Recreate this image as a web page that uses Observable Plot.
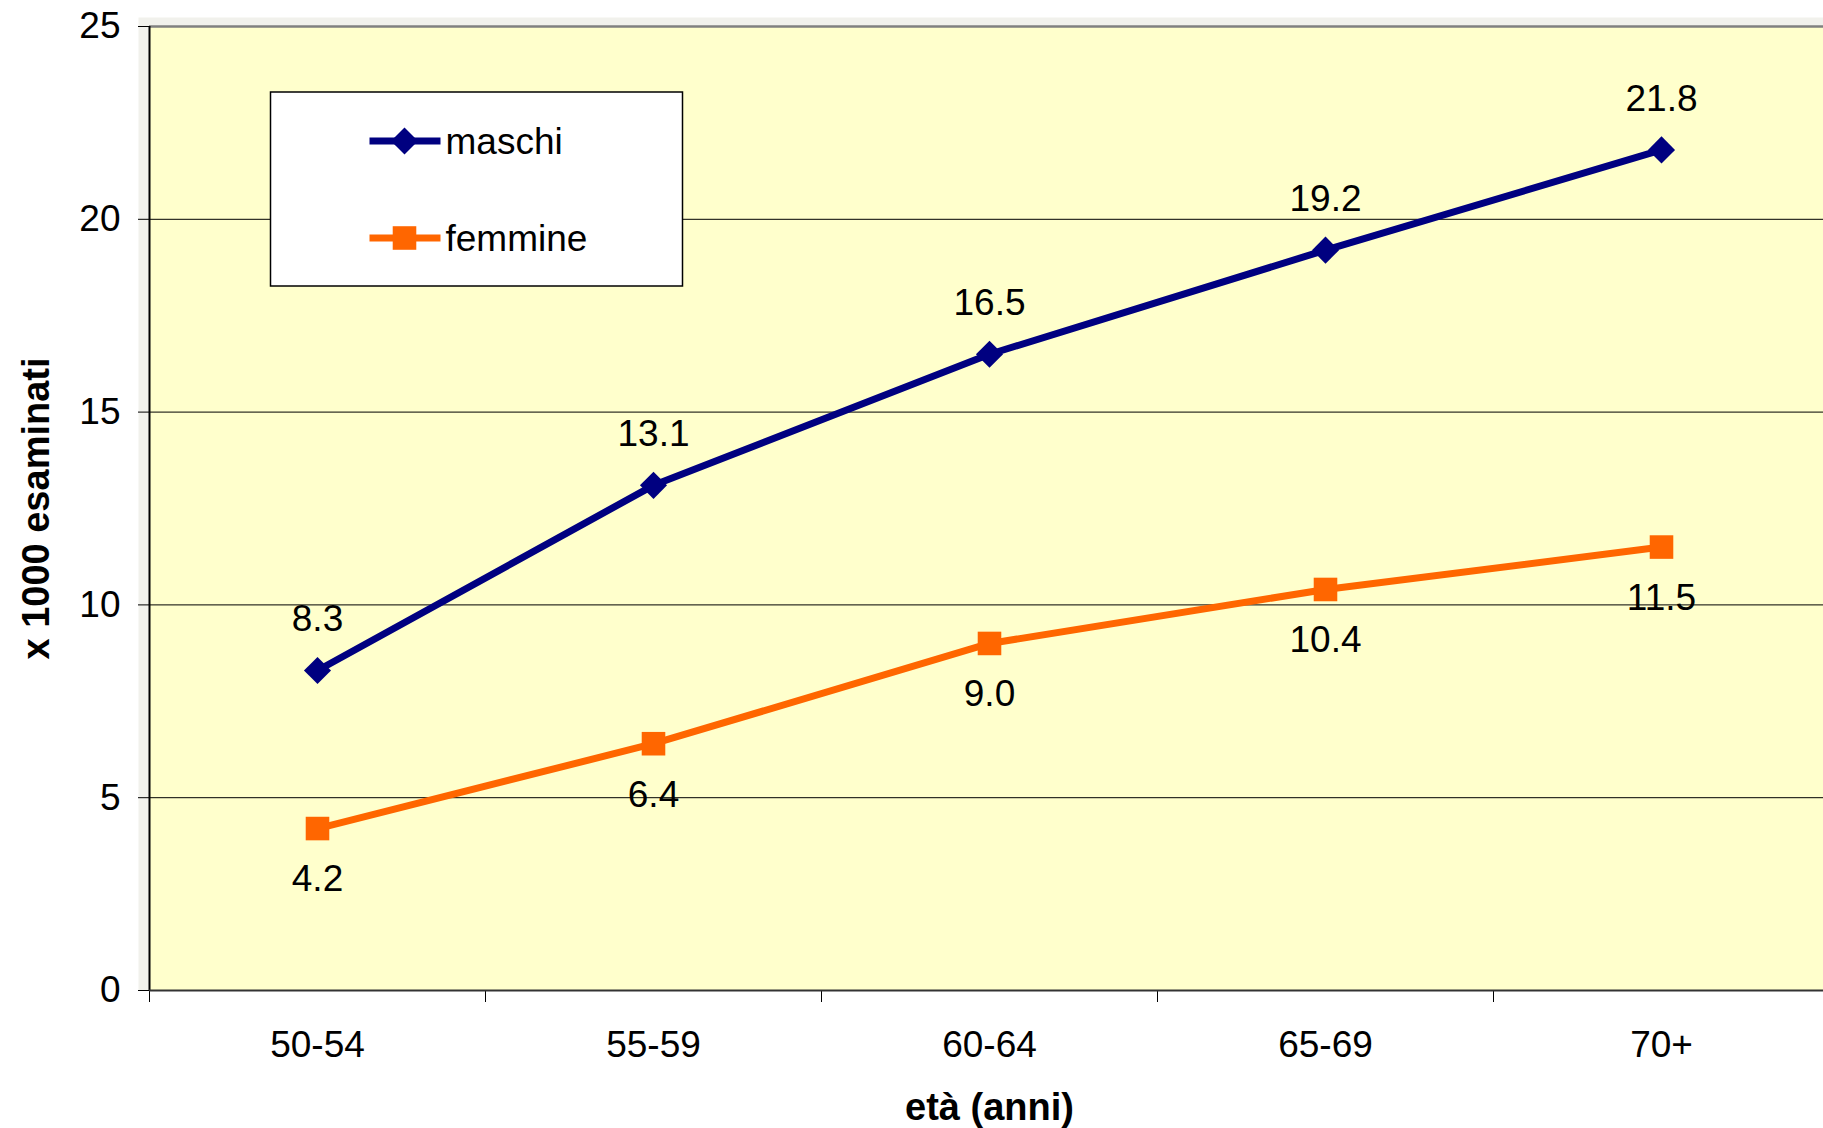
<!DOCTYPE html>
<html><head><meta charset="utf-8">
<script src="https://cdn.jsdelivr.net/npm/d3@7"></script>
<script src="https://cdn.jsdelivr.net/npm/@observablehq/plot@0.6"></script>
<style>
body{margin:0;background:#fff;}
#wrap{position:relative;width:1823px;height:1128px;overflow:hidden;font-family:"Liberation Sans",Arial,sans-serif;}
</style></head><body><div id="wrap"></div>
<script>
const ages = ["50-54","55-59","60-64","65-69","70+"];
const maschi = [8.3,13.1,16.5,19.2,21.8];
const femmine = [4.2,6.4,9.0,10.4,11.5];
const yTicks = [0,5,10,15,20,25];
const gridTicks = [5,10,15,20];
const seriesNames = ["maschi","femmine"];
const seriesColors = ["#000080","#FF6600"];
const seriesSymbols = ["diamond2","square"];
const xTitle = "età (anni)";
const yTitle = "x 1000 esaminati";

const rowsM = ages.map((a,i)=>({age:a, value:maschi[i]}));
const rowsF = ages.map((a,i)=>({age:a, value:femmine[i]}));

const W=1823, H=1128, ML=149, MR=-6, MT=26, MB=138;
const half = (W-ML-MR)/ages.length/2;
const font = "'Liberation Sans', Arial, sans-serif";
const FS = 37;

const chart = Plot.plot({
  width: W, height: H, marginLeft: ML, marginRight: MR, marginTop: MT, marginBottom: MB,
  style: {fontFamily: font, fontSize: FS + "px", background: "transparent", color: "#000"},
  x: {type: "point", domain: ages, padding: 0.5, axis: null, label: null},
  y: {domain: [0,25], axis: null, label: null},
  marks: [
    Plot.frame({fill: "#f1f1ec", insetLeft: -11, insetTop: -9}),
    Plot.frame({fill: "#FFFFCC"}),
    Plot.ruleY(gridTicks, {stroke: "#000", strokeWidth: 1}),
    Plot.ruleY([25], {stroke: "#808080", strokeWidth: 2.5}),
    Plot.axisY({ticks: yTicks, tickSize: 11, tickPadding: 18, fontSize: FS, label: null, stroke: "#000"}),
    Plot.axisX({ticks: ages, tickSize: 12, tickFormat: () => "", dx: -half, label: null, stroke: "#000"}),
    Plot.axisX({ticks: ages, tickSize: 0, tickPadding: 40, fontSize: FS, label: null}),
    Plot.ruleX([ages[0]], {dx: -half, stroke: "#000", strokeWidth: 2}),
    Plot.ruleY([0], {stroke: "#333", strokeWidth: 2}),
    Plot.line(rowsM, {x: "age", y: "value", stroke: seriesColors[0], strokeWidth: 7}),
    Plot.line(rowsF, {x: "age", y: "value", stroke: seriesColors[1], strokeWidth: 7}),
    Plot.dot(rowsM, {x: "age", y: "value", symbol: seriesSymbols[0], r: 12.2, fill: seriesColors[0], stroke: null}),
    Plot.dot(rowsF, {x: "age", y: "value", symbol: seriesSymbols[1], r: 13.3, fill: seriesColors[1], stroke: null}),
    Plot.text(rowsM, {x: "age", y: "value", text: d => d.value.toFixed(1), dy: -51, fontSize: FS, fill: "#000"}),
    Plot.text(rowsF, {x: "age", y: "value", text: d => d.value.toFixed(1), dy: 51, fontSize: FS, fill: "#000"}),
    Plot.text([xTitle], {frameAnchor: "bottom", textAnchor: "middle", dy: 129, fontWeight: "bold", fontSize: 38, fill: "#000"}),
    Plot.text([yTitle], {frameAnchor: "left", textAnchor: "middle", rotate: -90, dx: -113, fontWeight: "bold", fontSize: 38, fill: "#000"})
  ]
});
chart.style.position = "absolute";
chart.style.left = "0px";
chart.style.top = "0px";
document.getElementById("wrap").appendChild(chart);

// legend overlay
const leg = d3.select("#wrap").append("svg")
  .attr("width", W).attr("height", H)
  .style("position","absolute").style("left","0px").style("top","0px");
const lx = 270.5, ly = 92, lw = 412, lh = 194;
leg.append("rect").attr("x", lx).attr("y", ly).attr("width", lw).attr("height", lh)
  .attr("fill","#fff").attr("stroke","#000").attr("stroke-width",1.5);
const symSizes = [Math.PI*12.2*12.2, Math.PI*13.3*13.3];
const symD3 = [d3.symbolDiamond2, d3.symbolSquare];
seriesNames.forEach((name, i) => {
  const cy = ly + 49 + i*97;
  leg.append("line").attr("x1", lx+99).attr("x2", lx+170).attr("y1", cy).attr("y2", cy)
    .attr("stroke", seriesColors[i]).attr("stroke-width", 7);
  leg.append("path").attr("d", d3.symbol(symD3[i], symSizes[i])())
    .attr("transform", `translate(${lx+134},${cy})`).attr("fill", seriesColors[i]);
  leg.append("text").attr("x", lx+175).attr("y", cy).attr("dy","0.35em")
    .attr("font-family", font).attr("font-size", FS).attr("fill","#000").text(name);
});
</script></body></html>
